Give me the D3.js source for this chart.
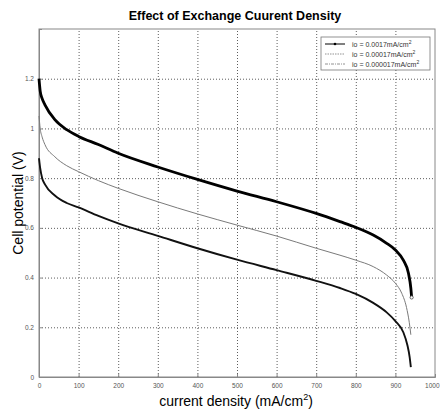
<!DOCTYPE html>
<html>
<head>
<meta charset="utf-8">
<script src="https://cdn.jsdelivr.net/npm/d3@7"></script>
<style>
  body { margin: 0; background: #fff; }
  svg { font-family: Arial, "Liberation Sans", sans-serif; }
  .grid line { stroke: #333; stroke-dasharray: 1,2; stroke-width: 0.8; }
  .grid path { display: none; }
  .axisGrey path, .axisGrey line { stroke: #888; }
  .axisGrey text { fill: #555; font-size: 6.5px; }
</style>
</head>
<body>
<svg id="chart" width="440" height="416"></svg>
<script>
const margin = { top: 29, right: 5, bottom: 39, left: 39 };
const WIDTH = 440, HEIGHT = 416;
const width = WIDTH - margin.left - margin.right,
  height = HEIGHT - margin.top - margin.bottom;

// io = 0.0017 mA/cm2
const currentA = [0, 3, 8, 15, 40, 70, 100, 150, 200, 300, 400, 500, 600, 700, 760, 800, 844, 878, 900, 920, 933, 939, 941];
const voltageA = [1.20, 1.15, 1.12, 1.095, 1.035, 0.995, 0.968, 0.935, 0.90, 0.845, 0.795, 0.748, 0.705, 0.658, 0.625, 0.602, 0.571, 0.538, 0.511, 0.47, 0.417, 0.357, 0.32];
// io = 0.00017 mA/cm2
const currentB = [0, 3, 8, 15, 40, 70, 100, 150, 200, 300, 400, 500, 600, 700, 760, 800, 844, 878, 900, 916, 928, 935, 939];
const voltageB = [1.05, 1.0, 0.965, 0.935, 0.886, 0.85, 0.826, 0.79, 0.759, 0.705, 0.656, 0.611, 0.567, 0.518, 0.49, 0.47, 0.444, 0.41, 0.377, 0.337, 0.28, 0.22, 0.17];
// io = 0.000017 mA/cm2
const currentC = [0, 3, 8, 15, 40, 70, 100, 150, 200, 300, 400, 500, 600, 700, 760, 800, 844, 878, 900, 920, 930, 936, 939];
const voltageC = [0.88, 0.84, 0.80, 0.775, 0.73, 0.70, 0.682, 0.648, 0.618, 0.568, 0.518, 0.472, 0.43, 0.387, 0.358, 0.334, 0.298, 0.26, 0.225, 0.18, 0.13, 0.08, 0.04];

const xTicks = [0, 100, 200, 300, 400, 500, 600, 700, 800, 900, 1000];
const yTicks = [0, 0.2, 0.4, 0.6, 0.8, 1.0, 1.2, 1.4];
const yTickLabels = ["0", "0.2", "0.4", "0.6", "0.8", "1", "1.2", ""];

const series = [
  { label: "0.0017", x: currentA, y: voltageA, color: "#000", width: 2.8 },
  { label: "0.00017", x: currentB, y: voltageB, color: "#7a7a7a", width: 1 },
  { label: "0.000017", x: currentC, y: voltageC, color: "#111", width: 1.9 },
];

const x = d3.scaleLinear().domain([0, 1000]).range([0, width]);
const y = d3.scaleLinear().domain([0, 1.4]).range([height, 0]);

const svg = d3.select("#chart");
const g = svg.append("g").attr("transform", "translate(" + margin.left + "," + margin.top + ")");

// gridlines
g.append("g")
  .attr("class", "grid")
  .attr("transform", "translate(0," + height + ")")
  .call(d3.axisBottom(x).tickValues(xTicks.slice(1, -1)).tickSize(-height).tickFormat(""));
g.append("g")
  .attr("class", "grid")
  .call(d3.axisLeft(y).tickValues(yTicks.slice(1, -1)).tickSize(-width).tickFormat(""));

// box
g.append("rect")
  .attr("width", width)
  .attr("height", height)
  .attr("fill", "none")
  .attr("stroke", "#888")
  .attr("stroke-width", 1);

// axes, ticks point inward like matlab
const xAxis = g.append("g")
  .attr("transform", "translate(0," + height + ")")
  .classed("axisGrey", true)
  .call(d3.axisBottom(x).tickValues(xTicks).tickSize(-3).tickPadding(6).tickFormat(d3.format("d")));
// last label sits against the window edge
xAxis.selectAll(".tick:last-of-type text").attr("text-anchor", "end").attr("dx", 4);

g.append("g")
  .classed("axisGrey", true)
  .call(d3.axisLeft(y).tickValues(yTicks).tickSize(-3).tickPadding(5).tickFormat((d, i) => yTickLabels[i]));

// curves
const line = d3.line()
  .x((d) => x(d[0]))
  .y((d) => y(d[1]))
  .curve(d3.curveMonotoneX);

series.forEach((s) => {
  const pts = s.x.map((v, i) => [v, s.y[i]]);
  g.append("path")
    .datum(pts)
    .attr("fill", "none")
    .attr("stroke", s.color)
    .attr("stroke-width", s.width)
    .attr("stroke-linejoin", "round")
    .attr("d", line);
});

// small circle marker at the end of the top curve
g.append("circle")
  .attr("cx", x(currentA[currentA.length - 1]))
  .attr("cy", y(voltageA[voltageA.length - 1]))
  .attr("r", 1.6)
  .attr("fill", "#fff")
  .attr("stroke", "#444")
  .attr("stroke-width", 0.8);

// title and labels
svg.append("text")
  .attr("x", 235)
  .attr("y", 20)
  .attr("text-anchor", "middle")
  .style("font-size", "12.5px")
  .style("font-weight", "bold")
  .text("Effect of Exchange Cuurent Density");

const xl = svg.append("text")
  .attr("x", 236)
  .attr("y", 406)
  .attr("text-anchor", "middle")
  .style("font-size", "14px")
  .text("current density (mA/cm");
xl.append("tspan").attr("dy", -6).style("font-size", "9px").text("2");
xl.append("tspan").attr("dy", 6).text(")");

svg.append("text")
  .attr("transform", "translate(23," + (margin.top + height / 2) + ") rotate(-90)")
  .attr("text-anchor", "middle")
  .style("font-size", "14px")
  .text("Cell potential (V)");

// legend
const legend = svg.append("g").attr("transform", "translate(321,37)");
legend.append("rect")
  .attr("width", 109)
  .attr("height", 33)
  .attr("fill", "#fff")
  .attr("stroke", "#777")
  .attr("stroke-width", 0.8);

const legendDash = [null, "1.5,1", "3,1,1,1"];
series.forEach((s, i) => {
  const ly = 7 + i * 10;
  legend.append("line")
    .attr("x1", 4)
    .attr("x2", 24)
    .attr("y1", ly)
    .attr("y2", ly)
    .attr("stroke", i === 0 ? "#000" : "#777")
    .attr("stroke-width", i === 0 ? 1 : 0.8)
    .attr("stroke-dasharray", legendDash[i]);
  if (i === 0) {
    legend.append("circle").attr("cx", 14).attr("cy", ly).attr("r", 1.3).attr("fill", "#000");
  }
  const t = legend.append("text")
    .attr("x", 31)
    .attr("y", ly + 2.5)
    .style("font-size", "7px")
    .style("fill", "#333")
    .text("io = " + s.label + "mA/cm");
  t.append("tspan").attr("dy", -3).style("font-size", "5px").text("2");
});
</script>
</body>
</html>
